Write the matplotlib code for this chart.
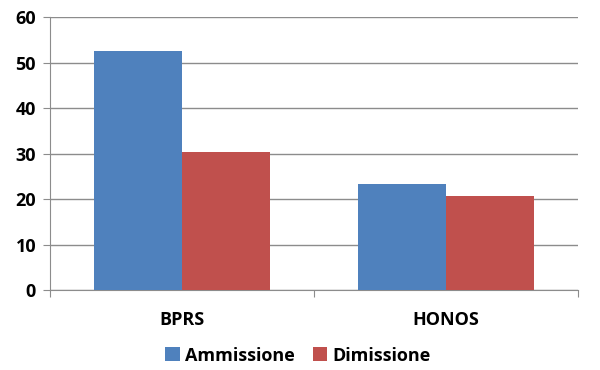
import numpy as np
import matplotlib.pyplot as plt

# Data
categories = ["BPRS", "HONOS"]
ammissione = [52.5, 23.3]
dimissione = [30.4, 20.6]
series_names = ["Ammissione", "Dimissione"]

plt.rcParams['font.family'] = ['Open Sans', 'DejaVu Sans']
plt.rcParams['font.weight'] = 'bold'

fig = plt.figure(figsize=(6, 3.7), dpi=100)
ax = fig.add_axes([0.0833, 0.216, 0.880, 0.738])

x = np.arange(len(categories))
w = 1 / 3
ax.bar(x - w / 2, ammissione, w, color="#4F81BD", label=series_names[0], zorder=3)
ax.bar(x + w / 2, dimissione, w, color="#C0504D", label=series_names[1], zorder=3)

ax.set_xlim(-0.5, 1.5)
ax.set_ylim(0, 60)
ax.set_yticks(range(0, 61, 10))
ax.yaxis.grid(True, color="#8C8C8C", linewidth=1, zorder=0)

# category ticks between groups, labels centered
ax.set_xticks([-0.5, 0.5, 1.5])
ax.set_xticklabels([])
ax.set_xticks(x, minor=True)
ax.set_xticklabels(categories, minor=True, fontsize=13, fontweight="bold")
ax.tick_params(axis="x", which="minor", length=0, pad=15)
ax.tick_params(axis="x", which="major", length=5, color="#8C8C8C")
ax.tick_params(axis="y", length=5, color="#8C8C8C", labelsize=13, pad=5)
for lab in ax.get_yticklabels():
    lab.set_fontweight("bold")

for s in ["top", "right"]:
    ax.spines[s].set_visible(False)
for s in ["left", "bottom"]:
    ax.spines[s].set_color("#8C8C8C")

ax.legend(loc="center", bbox_to_anchor=(0.47, -0.24), ncol=2, frameon=False,
          prop={"size": 13, "weight": "bold"}, handlelength=0.8, handleheight=0.8,
          handletextpad=0.3, columnspacing=1.0)

fig.savefig("out.png")
